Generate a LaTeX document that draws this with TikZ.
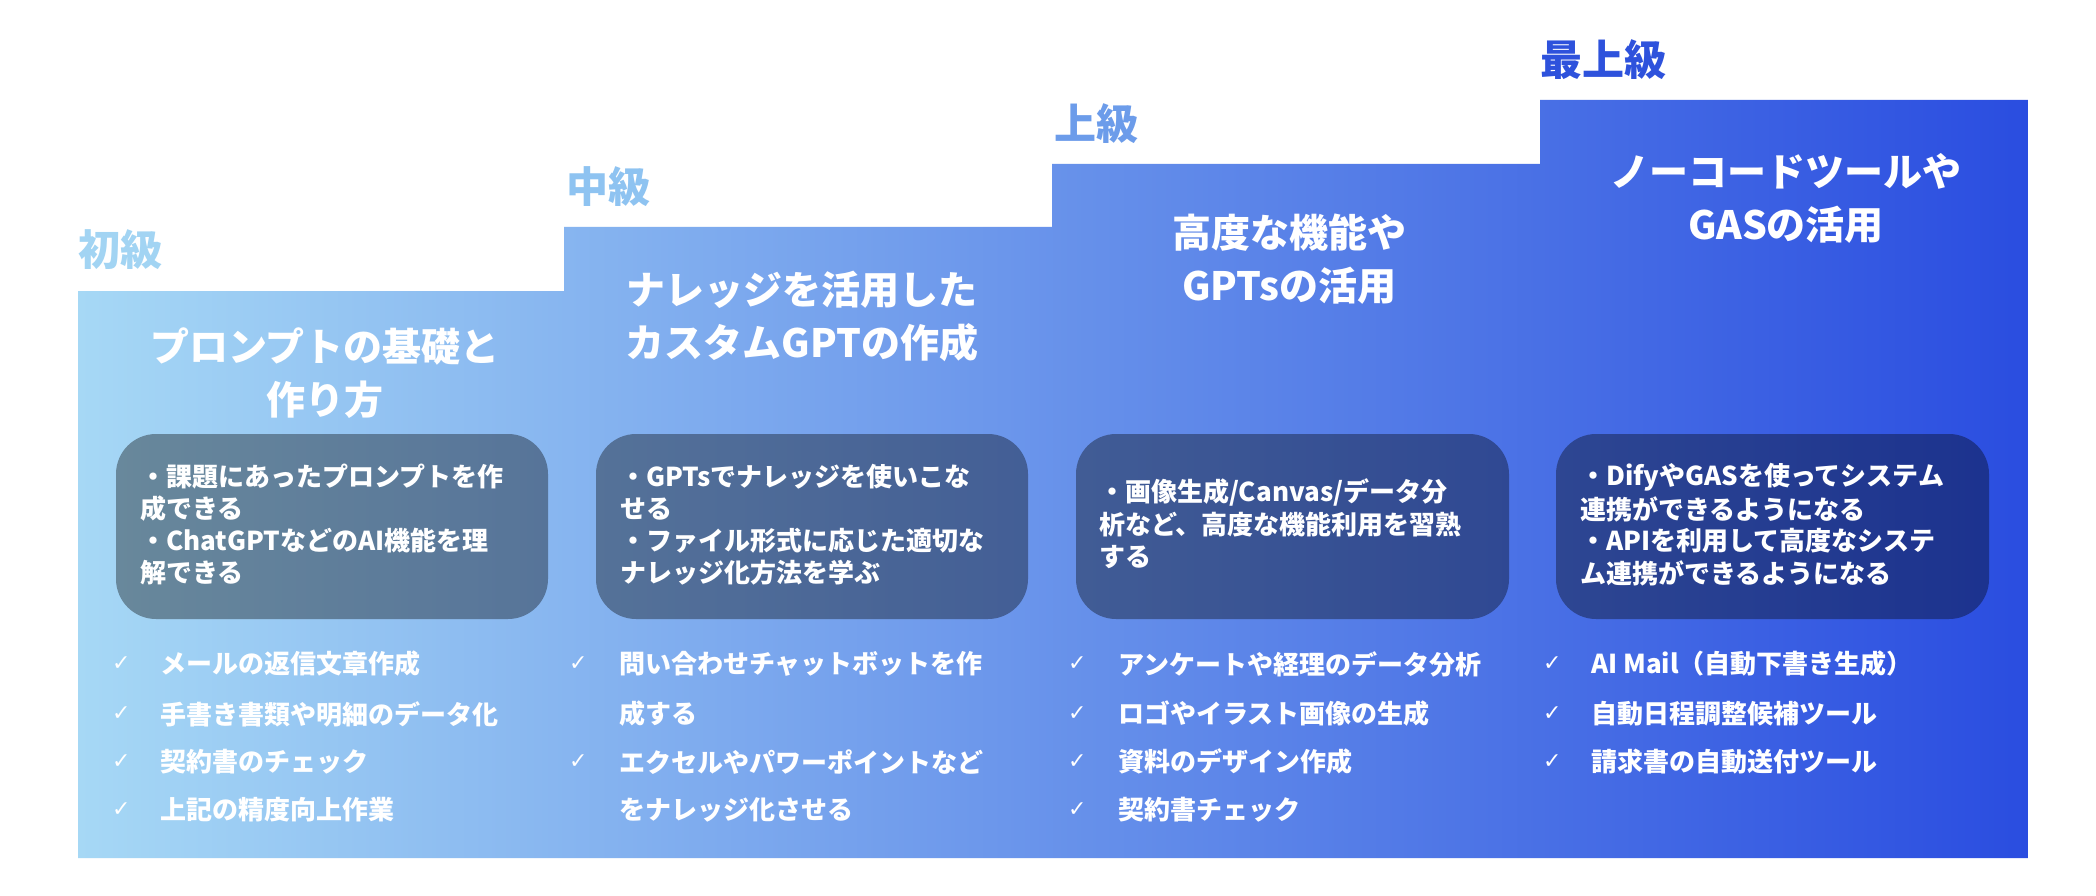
\documentclass[tikz,border=0pt]{standalone}
\usepackage{fontspec}
\setmainfont{Noto Sans CJK JP}
\newfontfamily\dv{DejaVu Sans}
\definecolor{cA}{HTML}{A6D8F5}
\definecolor{cB}{HTML}{7EABEE}
\definecolor{cC}{HTML}{2A4DE0}
\definecolor{hA}{HTML}{A2D4F3}
\definecolor{hB}{HTML}{8EC3F1}
\definecolor{hC}{HTML}{6C9CEA}
\definecolor{hD}{HTML}{2E52DC}
\begin{document}
\begin{tikzpicture}[x=1pt,y=-1pt,
  lvl/.style={anchor=west,font=\bfseries\fontsize{42}{50}\selectfont,inner sep=0pt},
  ttl/.style={align=center,text=white,font=\bfseries\fontsize{39}{53}\selectfont,inner sep=0pt},
  boxbg/.style={fill=black,fill opacity=0.36,rounded corners=40pt,draw=none},
  bx/.style={anchor=west,text=white,font=\bfseries\fontsize{26}{32}\selectfont,inner sep=0pt},
  ck/.style={anchor=west,text=white,font=\dv\fontsize{22}{26}\selectfont,inner sep=0pt},
  it/.style={anchor=west,text=white,font=\bfseries\fontsize{26}{32}\selectfont,inner sep=0pt}]
\useasboundingbox (0,0) rectangle (2096,896);
\fill[white] (0,0) rectangle (2096,896);
\shade[left color=cA,middle color=cB,right color=cC]
 (78,858) -- (78,291) -- (564,291) -- (564,227) -- (1052,227) -- (1052,164) -- (1540,164) -- (1540,100) -- (2028,100) -- (2028,858) -- cycle;
% levels
\node[lvl,text=hA] (l1) at (78,250) {初級};
\node[lvl,text=hB] (l2) at (566,187) {中級};
\node[lvl,text=hC] (l3) at (1054,124) {上級};
\node[lvl,text=hD] (l4) at (1540,60) {最上級};
% titles
\node[ttl] (t1) at (325,373) {プロンプトの基礎と\\作り方};
\node[ttl] (t2) at (802,316) {ナレッジを活用した\\カスタムGPTの作成};
\node[ttl] (t3) at (1289,259) {高度な機能や\\GPTsの活用};
\node[ttl] (t4) at (1786,198) {ノーコードツールや\\GASの活用};
% boxes
\fill[boxbg] (116,434) rectangle (548,619);
\fill[boxbg] (596,434) rectangle (1028,619);
\fill[boxbg] (1076,434) rectangle (1509,619);
\fill[boxbg] (1556,434) rectangle (1989,619);
\node[bx] (a1) at (140,477) {・課題にあったプロンプトを作};
\node[bx] (a2) at (140,509) {成できる};
\node[bx] (a3) at (140,541) {・ChatGPTなどのAI機能を理};
\node[bx] (a4) at (140,573) {解できる};
\node[bx] (b1) at (620,477) {・GPTsでナレッジを使いこな};
\node[bx] (b2) at (620,509) {せる};
\node[bx] (b3) at (620,541) {・ファイル形式に応じた適切な};
\node[bx] (b4) at (620,573) {ナレッジ化方法を学ぶ};
\node[bx] (c1) at (1099,492) {・画像生成/Canvas/データ分};
\node[bx] (c2) at (1099,525) {析など、高度な機能利用を習熟};
\node[bx] (c3) at (1099,557) {する};
\node[bx] (d1) at (1580,477) {・DifyやGASを使ってシステム};
\node[bx] (d2) at (1580,509) {連携ができるようになる};
\node[bx] (d3) at (1580,541) {・APIを利用して高度なシステ};
\node[bx] (d4) at (1580,573) {ム連携ができるようになる};
% checklists
\foreach \y/\t [count=\i] in {664/メールの返信文章作成,714/手書き書類や明細のデータ化,762/契約書のチェック,810/上記の精度向上作業}{
  \node[ck] (p\i) at (112,\y) {✓}; \node[it] (q\i) at (160,\y) {\t};}
\foreach \y/\t [count=\i] in {664/問い合わせチャットボットを作,714/成する,762/エクセルやパワーポイントなど,810/をナレッジ化させる}{
  \node[it] (r\i) at (619,\y) {\t};}
\node[ck] (s1) at (569,664) {✓};
\node[ck] (s2) at (569,762) {✓};
\foreach \y/\t [count=\i] in {664/アンケートや経理のデータ分析,714/ロゴやイラスト画像の生成,762/資料のデザイン作成,810/契約書チェック}{
  \node[ck] (u\i) at (1068,\y) {✓}; \node[it] (v\i) at (1118,\y) {\t};}
\foreach \y/\t [count=\i] in {664/AI Mail（自動下書き生成）,714/自動日程調整候補ツール,762/請求書の自動送付ツール}{
  \node[ck] (w\i) at (1543,\y) {✓}; \node[it] (z\i) at (1591,\y) {\t};}
\end{tikzpicture}
\end{document}
